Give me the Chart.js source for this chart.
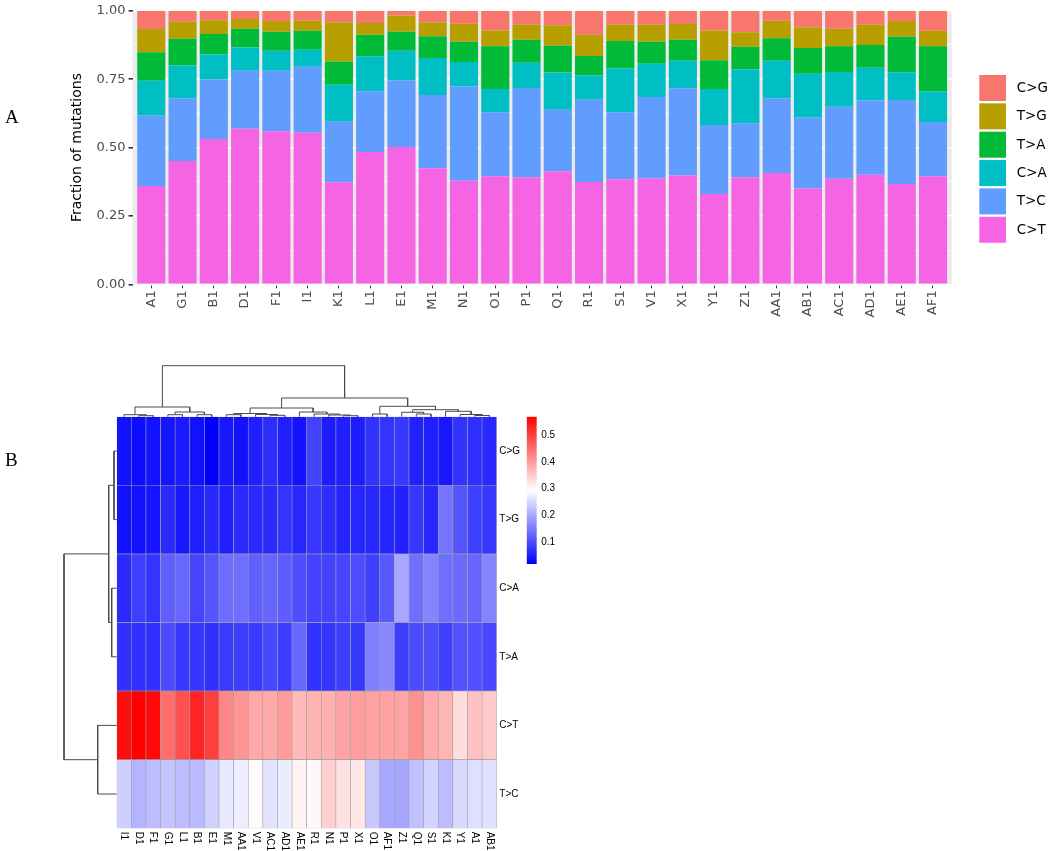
<!DOCTYPE html>
<html>
<head>
<meta charset="utf-8">
<title>Mutation spectrum</title>
<script src="https://cdn.jsdelivr.net/npm/chart.js@4.4.0/dist/chart.umd.min.js"></script>
<style>
  html, body { margin: 0; padding: 0; background: #fff; }
  #page { position: relative; width: 1052px; height: 851px; overflow: hidden; }
  #page canvas { position: absolute; left: 0; top: 0; }
  .panel-tag { position: absolute; left: 5px; font: 19px/19px "Liberation Serif", "Times New Roman", serif; color: #000; }
</style>
</head>
<body>
<div id="page">
  <canvas id="chartBars" width="1052" height="851"></canvas>
  <canvas id="chartHeat" width="1052" height="851"></canvas>
  <canvas id="chartColDend" width="1052" height="851"></canvas>
  <canvas id="chartRowDend" width="1052" height="851"></canvas>
  <canvas id="chartScale" width="1052" height="851"></canvas>
  <div class="panel-tag" style="top:107px">A</div>
  <div class="panel-tag" style="top:450px">B</div>
</div>
<script>
// ── data ────────────────────────────────────────────────
var samples = ['A1','G1','B1','D1','F1','I1','K1','L1','E1','M1','N1','O1','P1',
               'Q1','R1','S1','V1','X1','Y1','Z1','AA1','AB1','AC1','AD1','AE1','AF1'];

// fraction of each substitution type, one value per sample (order of samples)
var fracCT = [0.359,0.451,0.531,0.569,0.560,0.554,0.373,0.484,0.502,0.424,0.379,0.395,0.391,
              0.413,0.374,0.384,0.387,0.398,0.330,0.391,0.407,0.350,0.386,0.401,0.367,0.395];
var fracTC = [0.258,0.229,0.218,0.212,0.221,0.241,0.221,0.221,0.243,0.268,0.344,0.234,0.327,
              0.225,0.301,0.245,0.298,0.319,0.252,0.197,0.273,0.260,0.263,0.272,0.307,0.198];
var fracCA = [0.127,0.120,0.091,0.085,0.073,0.063,0.136,0.129,0.109,0.135,0.090,0.085,0.092,
              0.136,0.089,0.160,0.121,0.100,0.132,0.198,0.137,0.160,0.127,0.119,0.101,0.112];
var fracTA = [0.104,0.098,0.075,0.068,0.069,0.069,0.085,0.078,0.069,0.080,0.074,0.156,0.084,
              0.098,0.071,0.101,0.081,0.077,0.105,0.083,0.083,0.094,0.094,0.083,0.130,0.165];
var fracTG = [0.085,0.062,0.050,0.036,0.040,0.037,0.143,0.043,0.060,0.051,0.066,0.058,0.055,
              0.075,0.077,0.059,0.062,0.058,0.109,0.053,0.064,0.076,0.064,0.074,0.058,0.057];
var fracCG = [0.067,0.040,0.035,0.030,0.037,0.036,0.042,0.045,0.017,0.042,0.047,0.072,0.051,
              0.053,0.088,0.051,0.051,0.048,0.072,0.078,0.036,0.060,0.066,0.051,0.037,0.073];

var mutTypes  = ['C>G','T>G','T>A','C>A','T>C','C>T'];   // legend order (top of stack first)
var mutColors = ['#F8766D','#B79F00','#00BA38','#00BFC4','#619CFF','#F564E3'];
var fracByType = { 'C>G': fracCG, 'T>G': fracTG, 'T>A': fracTA, 'C>A': fracCA, 'T>C': fracTC, 'C>T': fracCT };

var yTickStep = 0.125;          // major every 0.25, minor in between
var scaleTicks = [0.1, 0.2, 0.3, 0.4, 0.5];

// heatmap clustering: [left, right, merge height]
var colTree = [
  [['I1', ['D1','F1',1.0], 2.0], [['G1','L1',2.0], ['B1','E1',2.0], 4.7], 9.7],
  [
    [[['M1','AA1',2.0], ['V1', ['AC1','AD1',1.4], 2.2], 3.2],
     ['AE1', ['R1', ['N1', ['P1','X1',1.0], 1.7], 2.7], 4.7], 8.7],
    [['O1','AF1',2.7],
     [['Z1', ['Q1','S1',2.7], 4.4], ['K1', ['Y1', ['A1','AB1',1.2], 2.2], 5.4], 7.0], 10.4],
    18.7],
  51.0];
var rowTree = [[['C>G','T>G',2.7], ['C>A','T>A',5.0], 8.0], ['C>T','T>C',19.0], 52.7];

// ── helpers ─────────────────────────────────────────────
Chart.defaults.animation = false;
Chart.defaults.events = [];
Chart.defaults.plugins.legend.display = false;
Chart.defaults.plugins.tooltip.enabled = false;

var SANS = '"DejaVu Sans", sans-serif';
var HELV = '"Liberation Sans", Arial, sans-serif';

function treeLeaves(node, out) {
  if (typeof node === 'string') { out.push(node); return out; }
  treeLeaves(node[0], out);
  treeLeaves(node[1], out);
  return out;
}

function treeSegments(node, leaves, segs) {
  if (typeof node === 'string') return { pos: leaves.indexOf(node), h: 0 };
  var a = treeSegments(node[0], leaves, segs);
  var b = treeSegments(node[1], leaves, segs);
  segs.push([[a.pos, a.h], [a.pos, node[2]], [b.pos, node[2]], [b.pos, b.h]]);
  return { pos: (a.pos + b.pos) / 2, h: node[2] };
}

function fracOf(type, sample) {
  return fracByType[type][samples.indexOf(sample)];
}

var allVals = [];
mutTypes.forEach(function(t) { allVals = allVals.concat(fracByType[t]); });
var heatMin = Math.min.apply(null, allVals);
var heatMax = Math.max.apply(null, allVals);

function heatColor(v) {
  var t = (v - heatMin) / (heatMax - heatMin), r, g, b, k;
  if (t < 0.5) { k = t / 0.5; r = g = Math.round(255 * k); b = 255; }
  else { k = (t - 0.5) / 0.5; r = 255; g = b = Math.round(255 * (1 - k)); }
  return 'rgb(' + r + ',' + g + ',' + b + ')';
}

function isMajor(v) { return Math.abs(v * 4 - Math.round(v * 4)) < 1e-6; }

// ── A: stacked fraction bars ────────────────────────────
var barSets = [];
for (var i = mutTypes.length - 1; i >= 0; i--) {
  (function(type, color) {
    barSets.push({
      label: type,
      data: samples.map(function(s, j) { return { x: j, y: fracByType[type][j] }; }),
      backgroundColor: color,
      borderWidth: 0,
      barPercentage: 0.9,
      categoryPercentage: 1.0
    });
  })(mutTypes[i], mutColors[i]);
}

var barDecor = {
  id: 'barDecor',
  beforeDraw: function(chart) {
    var a = chart.chartArea, c = chart.ctx;
    c.save();
    c.fillStyle = '#EBEBEB';
    c.fillRect(a.left, a.top, a.right - a.left, a.bottom - a.top);
    c.restore();
  },
  afterDraw: function(chart) {
    var a = chart.chartArea, c = chart.ctx;
    c.save();
    // y title
    c.fillStyle = '#000';
    c.font = '14px ' + SANS;
    c.textAlign = 'center';
    c.textBaseline = 'middle';
    c.translate(77, (a.top + a.bottom) / 2);
    c.rotate(-Math.PI / 2);
    c.fillText('Fraction of mutations', 0, 0);
    c.restore();

    // legend
    c.save();
    c.font = '13.5px ' + SANS;
    c.textAlign = 'left';
    c.textBaseline = 'middle';
    mutTypes.forEach(function(t, k) {
      var y = 75 + k * 28.35;
      c.fillStyle = mutColors[k];
      c.fillRect(979.3, y, 26.7, 26);
      c.fillStyle = '#000';
      c.fillText(t, 1016.7, y + 13.5);
    });
    c.restore();
  }
};

new Chart(document.getElementById('chartBars'), {
  type: 'bar',
  data: { datasets: barSets },
  options: {
    responsive: false,
    layout: { padding: { left: 0, top: 7.3, right: 100.24, bottom: 506.7 } },
    scales: {
      x: {
        type: 'linear', stacked: true, offset: false,
        min: -0.6, max: samples.length - 0.4,
        afterBuildTicks: function(s) { s.ticks = samples.map(function(n, j) { return { value: j }; }); },
        afterFit: function(s) { s.height = 60; },
        ticks: {
          autoSkip: false, minRotation: 90, maxRotation: 90, padding: 2,
          color: '#4D4D4D', font: { family: SANS, size: 13 },
          callback: function(v) { return samples[v]; }
        },
        grid: { offset: false, drawOnChartArea: false, color: '#333333', tickColor: '#333333', tickLength: 4 },
        border: { display: false }
      },
      y: {
        stacked: true, min: 0, max: 1,
        afterFit: function(s) { s.width = 132.54; },
        ticks: {
          stepSize: yTickStep, autoSkip: false, padding: 3,
          color: '#4D4D4D', font: { family: SANS, size: 13 },
          callback: function(v) { return isMajor(v) ? v.toFixed(2) : ''; }
        },
        grid: {
          color: '#FFFFFF',
          lineWidth: function(ctx) { return ctx.tick && isMajor(ctx.tick.value) ? 1.6 : 0.8; },
          tickColor: function(ctx) { return ctx.tick && isMajor(ctx.tick.value) ? '#333333' : 'rgba(0,0,0,0)'; },
          tickLength: 4
        },
        border: { display: false }
      }
    }
  },
  plugins: [barDecor]
});

// ── B: clustered heatmap ────────────────────────────────
var heatCols = treeLeaves(colTree, []);
var heatRows = treeLeaves(rowTree, []);
var HEAT = { left: 116.7, top: 416.7, right: 496.7, bottom: 828.3 };

var heatSets = heatRows.slice().reverse().map(function(row) {
  return {
    label: row,
    data: heatCols.map(function() { return 1; }),
    backgroundColor: heatCols.map(function(col) { return heatColor(fracOf(row, col)); }),
    borderColor: '#A0A0A0',
    borderWidth: 0.6,
    borderSkipped: false,
    barPercentage: 1,
    categoryPercentage: 1
  };
});

var heatLabels = {
  id: 'heatLabels',
  afterDraw: function(chart) {
    var a = chart.chartArea, c = chart.ctx, xs = chart.scales.x, ys = chart.scales.y;
    c.save();
    c.fillStyle = '#000';
    c.font = '10px ' + HELV;
    c.textAlign = 'left';
    c.textBaseline = 'middle';
    heatRows.forEach(function(r, k) {
      c.fillText(r, a.right + 2.6, ys.getPixelForValue(heatRows.length - k - 0.5));
    });
    heatCols.forEach(function(col, k) {
      c.save();
      c.translate(xs.getPixelForValue(k), a.bottom + 3.4);
      c.rotate(Math.PI / 2);
      c.fillText(col, 0, 0);
      c.restore();
    });
    c.restore();
  }
};

new Chart(document.getElementById('chartHeat'), {
  type: 'bar',
  data: { labels: heatCols, datasets: heatSets },
  options: {
    responsive: false,
    layout: { padding: { left: HEAT.left, top: HEAT.top, right: 1052 - HEAT.right, bottom: 851 - HEAT.bottom } },
    scales: {
      x: { display: false, stacked: true },
      y: { display: false, stacked: true, min: 0, max: heatRows.length }
    }
  },
  plugins: [heatLabels]
});

// dendrograms
function dendroSets(segs, swap) {
  return segs.map(function(s) {
    return {
      data: s.map(function(p) { return swap ? { x: p[1], y: p[0] } : { x: p[0], y: p[1] }; }),
      showLine: true, borderColor: '#4A4A4A', borderWidth: 1,
      pointRadius: 0, tension: 0, clip: false
    };
  });
}

var colSegs = [];
treeSegments(colTree, heatCols, colSegs);
new Chart(document.getElementById('chartColDend'), {
  type: 'scatter',
  data: { datasets: dendroSets(colSegs, false) },
  options: {
    responsive: false,
    layout: { padding: { left: HEAT.left, top: HEAT.top - 56.7, right: 1052 - HEAT.right, bottom: 851 - HEAT.top } },
    scales: {
      x: { display: false, min: -0.5, max: heatCols.length - 0.5 },
      y: { display: false, min: 0, max: 56.7 }
    }
  }
});

var rowSegs = [];
treeSegments(rowTree, heatRows, rowSegs);
new Chart(document.getElementById('chartRowDend'), {
  type: 'scatter',
  data: { datasets: dendroSets(rowSegs, true) },
  options: {
    responsive: false,
    layout: { padding: { left: HEAT.left - 56.7, top: HEAT.top, right: 1052 - HEAT.left, bottom: 851 - HEAT.bottom } },
    scales: {
      x: { display: false, min: 0, max: 56.7, reverse: true },
      y: { display: false, min: -0.5, max: heatRows.length - 0.5, reverse: true }
    }
  }
});

// colour key
new Chart(document.getElementById('chartScale'), {
  type: 'bar',
  data: {
    labels: ['key'],
    datasets: [{
      data: [[heatMin, heatMax]],
      barPercentage: 1, categoryPercentage: 1, borderWidth: 0,
      backgroundColor: function(ctx) {
        var ys = ctx.chart.scales.y;
        if (!ys || !ctx.chart.chartArea) return '#FFFFFF';
        var g = ctx.chart.ctx.createLinearGradient(0, ys.getPixelForValue(heatMin), 0, ys.getPixelForValue(heatMax));
        g.addColorStop(0, '#0000FF');
        g.addColorStop(0.5, '#FFFFFF');
        g.addColorStop(1, '#FF0000');
        return g;
      }
    }]
  },
  options: {
    responsive: false,
    layout: { padding: { left: 526.7, top: 416.7, right: 1052 - 536.7 - 30, bottom: 851 - 564 } },
    scales: {
      x: { display: false },
      y: {
        position: 'right', min: heatMin, max: heatMax,
        afterBuildTicks: function(s) { s.ticks = scaleTicks.map(function(v) { return { value: v }; }); },
        afterFit: function(s) { s.width = 30; },
        ticks: { padding: 4.5, color: '#000', font: { family: HELV, size: 10 },
                 callback: function(v) { return v.toFixed(1); } },
        grid: { display: false, drawTicks: false },
        border: { display: false }
      }
    }
  }
});
</script>
</body>
</html>
